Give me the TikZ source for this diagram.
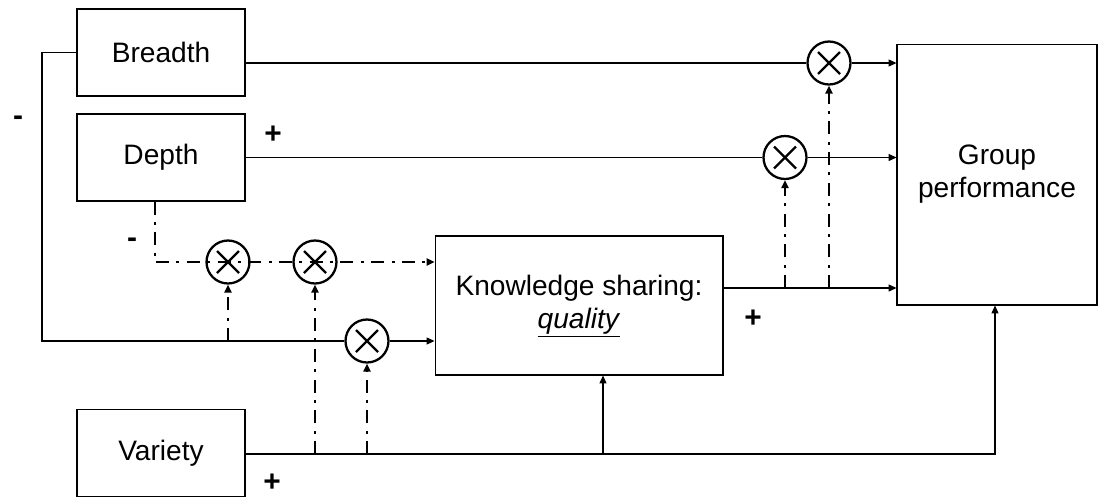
\documentclass[tikz,border=0pt]{standalone}
\usepackage{fontspec}
\setmainfont{Liberation Sans}
\usetikzlibrary{arrows.meta,calc}
\tikzset{
  block/.style={draw, line width=0.6pt, inner sep=0pt, align=center,
    font=\fontsize{16}{18.5}\selectfont},
  mult/.style={circle, draw, line width=1.3pt, minimum size=0.86cm, inner sep=0pt,
    path picture={
      \draw[line width=1.3pt] ($(path picture bounding box.center)+(-0.22cm,-0.22cm)$)
        -- ($(path picture bounding box.center)+(0.22cm,0.22cm)$);
      \draw[line width=1.3pt] ($(path picture bounding box.center)+(-0.22cm,0.22cm)$)
        -- ($(path picture bounding box.center)+(0.22cm,-0.22cm)$);}},
  link/.style={line width=0.6pt, -{Triangle[length=4.5pt,width=4pt]}},
  dashdot/.style={line width=1.4pt, dash pattern=on 7.4pt off 4.2pt on 1.7pt off 4.2pt,
    -{Triangle[length=4.5pt,width=4pt]}},
  sign/.style={font=\fontsize{17}{20}\selectfont\bfseries}
}
\begin{document}
\begin{tikzpicture}[x=0.02cm, y=-0.02cm]
    \useasboundingbox (0,0) rectangle (1100,498);
    % Blocks
    \node[block, minimum width=3.36cm, minimum height=1.74cm] (breadth) at (161,52.5) {Breadth};
    \node[block, minimum width=3.36cm, minimum height=1.74cm] (depth) at (161,157.5) {Depth};
    \node[block, minimum width=3.36cm, minimum height=1.74cm] (variety) at (161,453) {Variety};
    \node[block, minimum width=5.76cm, minimum height=2.78cm] (know) at (579,305.5)
        {\raisebox{-4.5pt}{\begin{tabular}{@{}c@{}}Knowledge sharing:\\\underline{\textit{quality}}\end{tabular}}};
    \node[block, minimum width=4.0cm, minimum height=5.22cm] (group) at (997,174.5)
        {\raisebox{-2pt}{\begin{tabular}{@{}c@{}}Group\\performance\end{tabular}}};

    % Multipliers
    \node[mult] (m1) at (228,262) {};
    \node[mult] (m2) at (315,262) {};
    \node[mult] (m3) at (367,341) {};
    \node[mult] (m4) at (785,157.5) {};
    \node[mult] (m5) at (829,63) {};

    % Bends
    \coordinate (bl) at (42,341);
    \coordinate (dd) at (155,262);
    \coordinate (gv) at (995,454);
    \coordinate (kv) at (603,454);
    \coordinate (ko) at (723,288);

    % Breadth
    \draw[line width=0.6pt] (breadth.west) -| (bl) -- (m3.west);
    \draw[link] (m3.east) -- (m3 -| know.west);
    \draw[line width=0.6pt] (breadth.east |- m5) -- (m5.west);
    \draw[link] (m5.east) -- (m5 -| group.west);

    % Depth
    \draw[line width=0.6pt] (depth.east |- m4) -- (m4.west);
    \draw[link] (m4.east) -- (m4 -| group.west);
    \draw[dashdot] (dd |- depth.south) -- (dd) -- (dd -| know.west);

    % Variety
    \draw[link] (variety.east |- gv) -- (gv) -- (gv |- group.south);
    \draw[link] (kv) -- (kv |- know.south);

    % Knowledge sharing
    \draw[link] (ko) -- (ko -| group.west);

    % Moderators
    \draw[dashdot] (m1 |- bl) -- (m1.south);
    \draw[dashdot] (m2 |- gv) -- (m2.south);
    \draw[dashdot] (m3 |- gv) -- (m3.south);
    \draw[dashdot] (m4 |- ko) -- (m4.south);
    \draw[dashdot] (m5 |- ko) -- (m5.south);

    % Signs
    \node[sign] (s1) at (18,121) {-};
    \node[sign] (s2) at (273,135) {+};
    \node[sign] (s3) at (132,243) {-};
    \node[sign] (s4) at (753,319) {+};
    \node[sign] (s5) at (272,483) {+};
\end{tikzpicture}
\end{document}
